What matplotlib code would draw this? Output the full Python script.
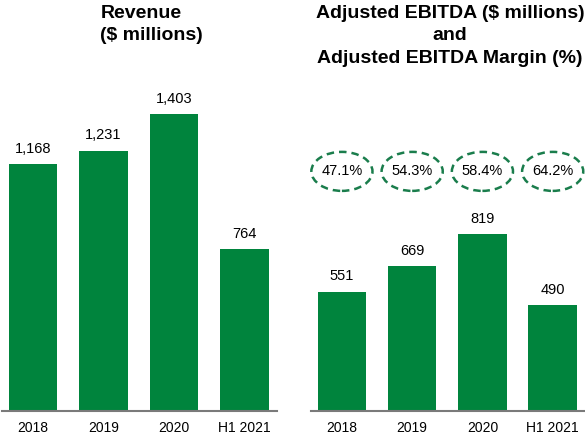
import matplotlib.pyplot as plt
from matplotlib.patches import Ellipse
import matplotlib.transforms as mtransforms

plt.rcParams['font.family'] = ['Liberation Sans', 'DejaVu Sans']

years = ["2018", "2019", "2020", "H1 2021"]
revenue = [1168, 1231, 1403, 764]
ebitda = [551, 669, 819, 490]
margin = ["47.1%", "54.3%", "58.4%", "64.2%"]

green = "#00843d"

fig = plt.figure(figsize=(5.85, 4.38), dpi=100)
W, H = 585, 438
ax1 = fig.add_axes([2 / W, 1 - 411 / H, 275 / W, 411 / H])
ax2 = fig.add_axes([311 / W, 1 - 411 / H, 274 / W, 411 / H])


def draw(ax, vals, ymax):
    x = range(len(vals))
    ax.bar(x, vals, width=0.69, color=green)
    for i, v in zip(x, vals):
        ax.annotate(f"{v:,}", (i, v), xytext=(0, 6), textcoords="offset points",
                    ha="center", va="bottom", fontsize=10.5)
    ax.set_xlim(-0.44, 3.46)
    ax.set_ylim(0, ymax)
    for s in ["top", "right", "left"]:
        ax.spines[s].set_visible(False)
    ax.spines["bottom"].set_color("#7a7a7a")
    ax.spines["bottom"].set_linewidth(1.5)
    ax.set_yticks([])
    ax.set_xticks(list(x))
    ax.set_xticklabels(years, fontsize=10)
    ax.tick_params(axis="x", length=0, pad=7.5)
    ax.patch.set_alpha(0)


draw(ax1, revenue, 1943)
draw(ax2, ebitda, 1900)

trans = mtransforms.blended_transform_factory(ax2.transData, ax2.transAxes)
for i, m in enumerate(margin):
    ax2.add_patch(Ellipse((i, 0.583), 0.87, 39 / 411, transform=trans, fill=False,
                          edgecolor="#1a7d4c", linewidth=1.8, linestyle=(0, (3, 2)),
                          clip_on=False))
    ax2.text(i, 0.583, m, transform=trans, ha="center", va="center", fontsize=10.5)

# titles, one line at a time
fig.text(101 / W, 1 - 18 / H, "Revenue", ha="left", va="baseline",
         fontsize=14, fontweight="bold")
fig.text(100 / W, 1 - 40 / H, "($ millions)", ha="left", va="baseline",
         fontsize=14, fontweight="bold")
right_title = ["Adjusted EBITDA ($ millions)", "and", "Adjusted EBITDA Margin (%)"]
for k, line in enumerate(right_title):
    fig.text(450 / W, 1 - (18 + 22.5 * k) / H, line, ha="center", va="baseline",
             fontsize=14, fontweight="bold")

fig.savefig("out.png", dpi=100)
